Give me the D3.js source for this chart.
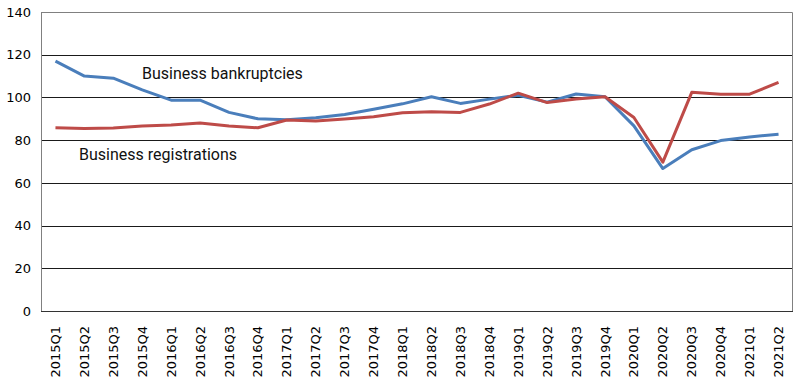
<!DOCTYPE html>
<html>
<head>
<meta charset="utf-8">
<script src="https://cdn.jsdelivr.net/npm/d3@7"></script>
<style>
  html, body { margin: 0; padding: 0; background: #fff; }
  svg { display: block; }
  .series-label { font-family: "Roboto", "DejaVu Sans", sans-serif; fill: #111; }
  .tick text { font-family: "DejaVu Sans", sans-serif; fill: #000; }
</style>
</head>
<body>
<svg id="chart" width="795" height="381"></svg>
<script>
// Quarterly index values
const quarters = [
  "2015Q1","2015Q2","2015Q3","2015Q4",
  "2016Q1","2016Q2","2016Q3","2016Q4",
  "2017Q1","2017Q2","2017Q3","2017Q4",
  "2018Q1","2018Q2","2018Q3","2018Q4",
  "2019Q1","2019Q2","2019Q3","2019Q4",
  "2020Q1","2020Q2","2020Q3","2020Q4",
  "2021Q1","2021Q2"
];
const bankruptcies = [
  117, 110, 109, 103.5,
  98.7, 98.7, 93, 90,
  89.5, 90.5, 92, 94.5,
  97, 100.3, 97.2, 99.2,
  101, 97.8, 101.6, 100.3,
  86.7, 66.7, 75.5, 79.8,
  81.5, 82.8
];
const registrations = [
  85.8, 85.5, 85.7, 86.6,
  87.1, 88, 86.6, 85.8,
  89.4, 89, 89.9, 91,
  92.8, 93.3, 93, 96.9,
  102, 97.6, 99.3, 100.3,
  90.6, 69.7, 102.4, 101.5,
  101.5, 107
];
const yTicks = [0, 20, 40, 60, 80, 100, 120, 140];

const svg = d3.select("#chart");
const margin = { top: 12, right: 2, bottom: 70, left: 41 };
const W = 795, H = 381;
const innerW = W - margin.left - margin.right;
const innerH = H - margin.top - margin.bottom;

const x = d3.scaleBand().domain(quarters).range([0, innerW]);
const y = d3.scaleLinear().domain([0, 140]).range([innerH, 0]);

const g = svg.append("g").attr("transform", `translate(${margin.left},${margin.top})`);

// horizontal gridlines
g.append("g")
  .selectAll("line")
  .data(yTicks.filter(t => t > 0 && t < 140))
  .join("line")
  .attr("x1", 0).attr("x2", innerW)
  .attr("y1", d => Math.round(y(d)) + 0.5)
  .attr("y2", d => Math.round(y(d)) + 0.5)
  .attr("stroke", "#1a1a1a")
  .attr("stroke-width", 1);

// plot frame (top and right)
g.append("path")
  .attr("d", `M0,${Math.round(y(140)) + 0.5}H${innerW - 0.5}V${innerH}`)
  .attr("fill", "none")
  .attr("stroke", "#808080")
  .attr("stroke-width", 1);

// y axis
const yAxis = g.append("g")
  .call(d3.axisLeft(y).tickValues(yTicks).tickSize(0).tickPadding(10));
yAxis.select(".domain").attr("stroke", "#808080");
yAxis.selectAll("text").style("font-size", "13px");

// x axis
const xAxis = g.append("g")
  .attr("transform", `translate(0,${innerH})`)
  .call(d3.axisBottom(x).tickSize(0).tickPadding(0));
xAxis.select(".domain").attr("stroke", "#333").attr("d", `M0,0.5H${innerW}`);
xAxis.selectAll("text")
  .style("font-size", "13px")
  .attr("transform", "rotate(-90)")
  .attr("text-anchor", "end")
  .attr("dy", "0.35em")
  .attr("x", -15)
  .attr("y", 0);

// series lines
const line = d3.line()
  .x((d, i) => x(quarters[i]) + x.bandwidth() / 2)
  .y(d => y(d));

g.append("path")
  .datum(bankruptcies)
  .attr("fill", "none")
  .attr("stroke", "#4A7EBB")
  .attr("stroke-width", 3)
  .attr("stroke-linejoin", "round")
  .attr("d", line);

g.append("path")
  .datum(registrations)
  .attr("fill", "none")
  .attr("stroke", "#BE4B48")
  .attr("stroke-width", 3)
  .attr("stroke-linejoin", "round")
  .attr("d", line);

// series labels
svg.append("text")
  .attr("class", "series-label")
  .attr("x", 142).attr("y", 79)
  .style("font-size", "16px")
  .text("Business bankruptcies");

svg.append("text")
  .attr("class", "series-label")
  .attr("x", 79).attr("y", 160)
  .style("font-size", "16px")
  .text("Business registrations");
</script>
</body>
</html>
